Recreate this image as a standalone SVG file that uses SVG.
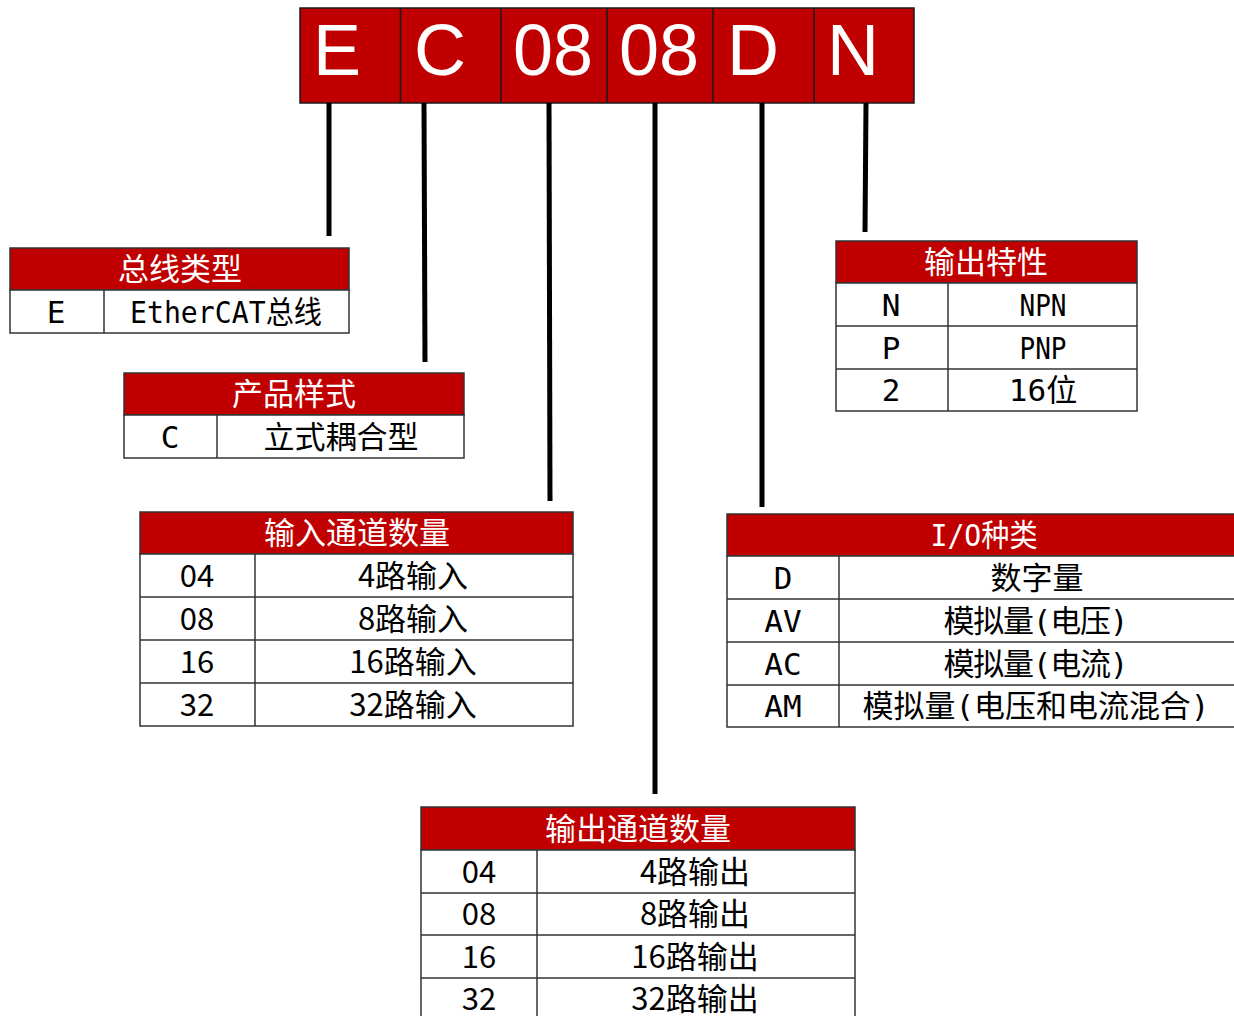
<svg xmlns="http://www.w3.org/2000/svg" width="1234" height="1016" viewBox="0 0 1234 1016">
<style>
.bar{fill:#C00000;stroke:#1a1a1a;stroke-width:1.5}
.big{font-family:"Liberation Sans",Arial,sans-serif;font-size:72px;fill:#fff;text-anchor:middle}
.hd{fill:#C00000;stroke:#333;stroke-width:1.5}
.cell{fill:#fff;stroke:#333;stroke-width:1.5}
.ln{stroke:#333;stroke-width:1.5}
.ht{font-family:"Noto Sans CJK SC",sans-serif;font-size:31px;fill:#fff;text-anchor:middle}
.nt{font-family:"DejaVu Sans Mono","Noto Sans CJK SC",monospace;font-size:31px;fill:#000;text-anchor:middle}
.pt{font-family:"Noto Sans CJK SC",sans-serif;font-size:31px;fill:#000;text-anchor:middle}
.con{stroke:#000;stroke-width:5;fill:none}
</style>

<g id="code-bar">
<rect class="bar" x="300" y="8" width="614" height="95"/>
<line class="ln" x1="400.5" y1="8" x2="400.5" y2="103" style="stroke:#1a1a1a"/>
<line class="ln" x1="501" y1="8" x2="501" y2="103" style="stroke:#1a1a1a"/>
<line class="ln" x1="607" y1="8" x2="607" y2="103" style="stroke:#1a1a1a"/>
<line class="ln" x1="713" y1="8" x2="713" y2="103" style="stroke:#1a1a1a"/>
<line class="ln" x1="814" y1="8" x2="814" y2="103" style="stroke:#1a1a1a"/>
<text class="big" x="337" y="75">E</text>
<text class="big" x="440" y="75">C</text>
<text class="big" x="553" y="75">08</text>
<text class="big" x="659" y="75">08</text>
<text class="big" x="753" y="75">D</text>
<text class="big" x="853" y="75">N</text>
</g>

<g id="connectors">
<line class="con" x1="329" y1="103" x2="329" y2="236"/>
<line class="con" x1="424" y1="103" x2="425" y2="362"/>
<line class="con" x1="549" y1="103" x2="550" y2="501"/>
<line class="con" x1="655" y1="103" x2="655" y2="794"/>
<line class="con" x1="762" y1="103" x2="762" y2="507"/>
<line class="con" x1="866" y1="103" x2="865" y2="232"/>
</g>

<g id="bus-type">
<rect class="hd" x="10" y="248" width="339" height="42"/>
<rect class="cell" x="10" y="290" width="339" height="43"/>
<line class="ln" x1="104" y1="290" x2="104" y2="333"/>
<text class="ht" x="180" y="280">总线类型</text>
<text class="nt" x="56" y="323">E</text>
<text class="nt" x="226" y="323" textLength="192" lengthAdjust="spacingAndGlyphs">EtherCAT总线</text>
</g>

<g id="product-style">
<rect class="hd" x="124" y="373" width="340" height="42"/>
<rect class="cell" x="124" y="415" width="340" height="43"/>
<line class="ln" x1="217" y1="415" x2="217" y2="458"/>
<text class="ht" x="294" y="405">产品样式</text>
<text class="nt" x="170" y="448">C</text>
<text class="nt" x="341" y="448">立式耦合型</text>
</g>

<g id="input-count">
<rect class="hd" x="140" y="512" width="433" height="42"/>
<rect class="cell" x="140" y="554" width="433" height="172"/>
<line class="ln" x1="140" y1="597" x2="573" y2="597"/>
<line class="ln" x1="140" y1="640" x2="573" y2="640"/>
<line class="ln" x1="140" y1="683" x2="573" y2="683"/>
<line class="ln" x1="255" y1="554" x2="255" y2="726"/>
<text class="ht" x="357" y="544">输入通道数量</text>
<text class="pt" x="197" y="587">04</text>
<text class="pt" x="413" y="587">4路输入</text>
<text class="pt" x="197" y="630">08</text>
<text class="pt" x="413" y="630">8路输入</text>
<text class="pt" x="197" y="673">16</text>
<text class="pt" x="413" y="673">16路输入</text>
<text class="pt" x="197" y="716">32</text>
<text class="pt" x="413" y="716">32路输入</text>
</g>

<g id="output-char">
<rect class="hd" x="836" y="241" width="301" height="42"/>
<rect class="cell" x="836" y="283" width="301" height="128"/>
<line class="ln" x1="836" y1="326" x2="1137" y2="326"/>
<line class="ln" x1="836" y1="369" x2="1137" y2="369"/>
<line class="ln" x1="948" y1="283" x2="948" y2="411"/>
<text class="ht" x="986" y="273">输出特性</text>
<text class="nt" x="891" y="316">N</text>
<text class="nt" x="1043" y="316" textLength="47" lengthAdjust="spacingAndGlyphs">NPN</text>
<text class="nt" x="891" y="359">P</text>
<text class="nt" x="1043" y="359" textLength="47" lengthAdjust="spacingAndGlyphs">PNP</text>
<text class="nt" x="891" y="401">2</text>
<text class="nt" x="1043" y="401">16位</text>
</g>

<g id="io-type">
<rect class="hd" x="727" y="514" width="512" height="42"/>
<rect class="cell" x="727" y="556" width="512" height="171"/>
<line class="ln" x1="727" y1="599" x2="1239" y2="599"/>
<line class="ln" x1="727" y1="642" x2="1239" y2="642"/>
<line class="ln" x1="727" y1="685" x2="1239" y2="685"/>
<line class="ln" x1="839" y1="556" x2="839" y2="727"/>
<text class="ht" x="984" y="546" style="font-family:'DejaVu Sans Mono','Noto Sans CJK SC',monospace" textLength="107" lengthAdjust="spacingAndGlyphs">I/O种类</text>
<text class="nt" x="783" y="589">D</text>
<text class="nt" x="1037" y="589">数字量</text>
<text class="nt" x="783" y="632">AV</text>
<text class="nt" x="1036" y="632" textLength="185" lengthAdjust="spacing">模拟量(电压)</text>
<text class="nt" x="783" y="675">AC</text>
<text class="nt" x="1036" y="675" textLength="185" lengthAdjust="spacing">模拟量(电流)</text>
<text class="nt" x="783" y="717">AM</text>
<text class="nt" x="1036" y="717" textLength="347" lengthAdjust="spacing">模拟量(电压和电流混合)</text>
</g>

<g id="output-count">
<rect class="hd" x="421" y="807" width="434" height="43"/>
<rect class="cell" x="421" y="850" width="434" height="172"/>
<line class="ln" x1="421" y1="893" x2="855" y2="893"/>
<line class="ln" x1="421" y1="935" x2="855" y2="935"/>
<line class="ln" x1="421" y1="978" x2="855" y2="978"/>
<line class="ln" x1="537" y1="850" x2="537" y2="1022"/>
<text class="ht" x="638" y="840">输出通道数量</text>
<text class="pt" x="479" y="883">04</text>
<text class="pt" x="695" y="883">4路输出</text>
<text class="pt" x="479" y="925">08</text>
<text class="pt" x="695" y="925">8路输出</text>
<text class="pt" x="479" y="968">16</text>
<text class="pt" x="695" y="968">16路输出</text>
<text class="pt" x="479" y="1010">32</text>
<text class="pt" x="695" y="1010">32路输出</text>
</g>
</svg>
